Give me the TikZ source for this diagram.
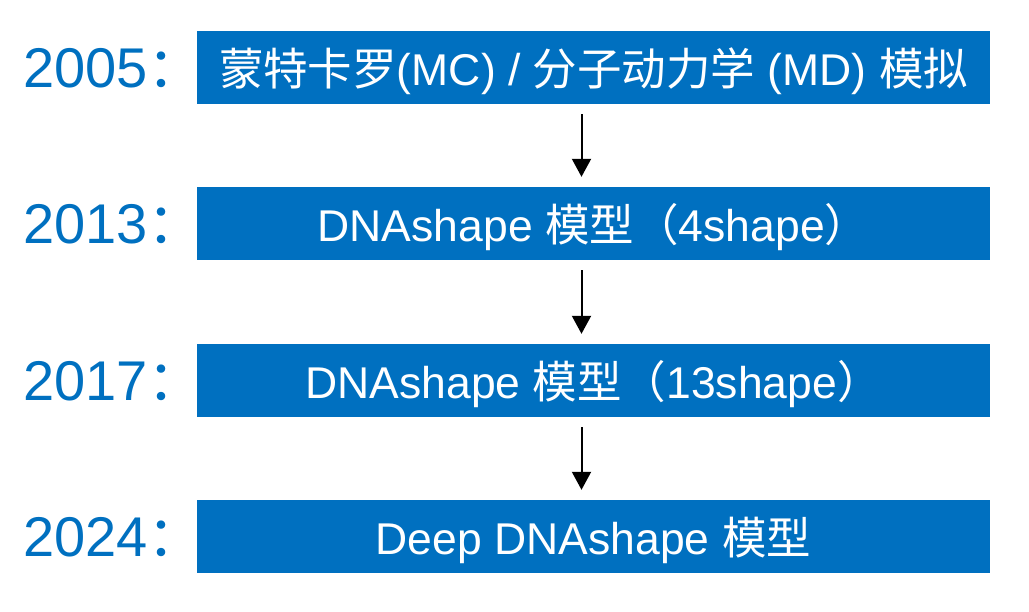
\documentclass[tikz,border=0pt]{standalone}
\usepackage{fontspec}
\setmainfont{Liberation Sans}
\newfontfamily\cjk{Noto Sans CJK SC}
\usetikzlibrary{arrows.meta}
\definecolor{boxblue}{HTML}{0070C0}
\tikzset{
  stagebox/.style={fill=boxblue, draw=none, minimum width=793pt, minimum height=73pt, inner sep=0pt, text height=35pt, text depth=0pt, text=white, font=\fontsize{44.5}{44.5}\selectfont},
  yearlabel/.style={anchor=base west, inner sep=0pt, text=boxblue, font=\fontsize{56}{56}\selectfont},
  flow/.style={-{Triangle[width=19pt,length=18pt]}, line width=2pt, shorten <=10pt, shorten >=10pt}
}
\begin{document}
\begin{tikzpicture}[x=1pt,y=-1pt]
\useasboundingbox (0,0) rectangle (1029,611);
\node[stagebox] (b1) at (593.5,67.5) {{\cjk 蒙特卡罗}(MC) / {\cjk 分子动力学} (MD) {\cjk 模拟}};
\node[stagebox] (b2) at (593.5,223.5) {DNAshape {\cjk 模型（}4shape{\cjk ）}};
\node[stagebox] (b3) at (593.5,380.5) {DNAshape {\cjk 模型（}13shape{\cjk ）}};
\node[stagebox] (b4) at (593.5,536.5) {Deep DNAshape {\cjk 模型}};
\node[yearlabel] (y1) at (23,87) {2005{\cjk ：}};
\node[yearlabel] (y2) at (23,243) {2013{\cjk ：}};
\node[yearlabel] (y3) at (23,400) {2017{\cjk ：}};
\node[yearlabel] (y4) at (23,556) {2024{\cjk ：}};
\draw[flow] ([xshift=-12pt]b1.south) -- ([xshift=-12pt]b2.north);
\draw[flow] ([xshift=-12pt]b2.south) -- ([xshift=-12pt]b3.north);
\draw[flow] ([xshift=-12pt]b3.south) -- ([xshift=-12pt]b4.north);
\end{tikzpicture}
\end{document}
